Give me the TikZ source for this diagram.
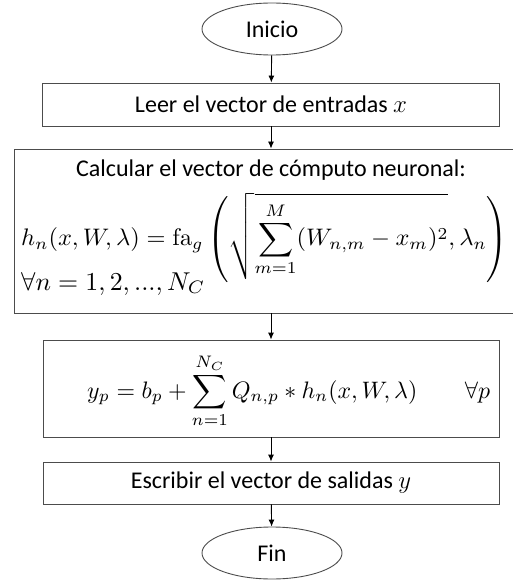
\documentclass[tikz,border=0pt]{standalone}
\usepackage{amsmath}
\usepackage{graphicx}
\usepackage[no-math]{fontspec}
\setmainfont{Carlito}
\usetikzlibrary{shapes.geometric,arrows.meta}

\begin{document}
\begin{tikzpicture}[x=1pt,y=-1pt,
  term/.style={draw=black!70,line width=0.9pt,ellipse,minimum width=140pt,minimum height=52pt,inner sep=0pt,font=\fontsize{24}{28}\selectfont},
  proc/.style={draw=black!70,line width=0.9pt,rectangle,inner sep=0pt,font=\fontsize{24}{28}\selectfont},
  flow/.style={-{Latex[length=7pt,width=6pt]},line width=0.9pt}]

\useasboundingbox (0,0) rectangle (512,580);

%%%%%%%%%%%%%%%%%%%%%%%%
% inicio y lectura
%%%%%%%%%%%%%%%%%%%%%%%%

\node[term](inicio) at (272,29) {Inicio};
\node[proc,minimum width=457pt,minimum height=43pt](leer) at (271,104.5) {Leer el vector de entradas $x$};

%%%%%%%%%%%%%%%%%%%%%%%%
% computo neuronal
%%%%%%%%%%%%%%%%%%%%%%%%

\node[proc,minimum width=514pt,minimum height=164pt](calc) at (271,231) {};
\node[font=\fontsize{24}{28}\selectfont](titulo) at (271,170) {Calcular el vector de cómputo neuronal:};
\node[anchor=west,inner sep=0pt](hn) at (21,238)
  {\resizebox*{487pt}{90pt}{$\displaystyle h_n(x,W,\lambda)=\mathrm{fa}_g\left(\sqrt{\sum_{m=1}^{M}(W_{n,m}-x_m)^2},\lambda_n\right)$}};
\node[anchor=base west,inner sep=0pt](paratodo) at (21,290)
  {\resizebox{184pt}{!}{$\forall n=1,2,...,N_C$}};

%%%%%%%%%%%%%%%%%%%%%%%%
% salidas
%%%%%%%%%%%%%%%%%%%%%%%%

\node[proc,minimum width=456pt,minimum height=97pt](suma) at (271,388.5) {};
\node[anchor=base west,inner sep=0pt](yp) at (87,398)
  {\resizebox{403pt}{!}{$\displaystyle y_p=b_p+\sum_{n=1}^{N_C}Q_{n,p}*h_n(x,W,\lambda)\qquad\forall p$}};
\node[proc,minimum width=456pt,minimum height=42pt](escribir) at (271,483) {Escribir el vector de salidas $y$};
\node[term](fin) at (272,553) {Fin};

\draw[flow] (inicio) -- (leer);
\draw[flow] (leer) -- (calc);
\draw[flow] (calc) -- (suma);
\draw[flow] (suma) -- (escribir);
\draw[flow] (escribir) -- (fin);

\end{tikzpicture}
\end{document}
